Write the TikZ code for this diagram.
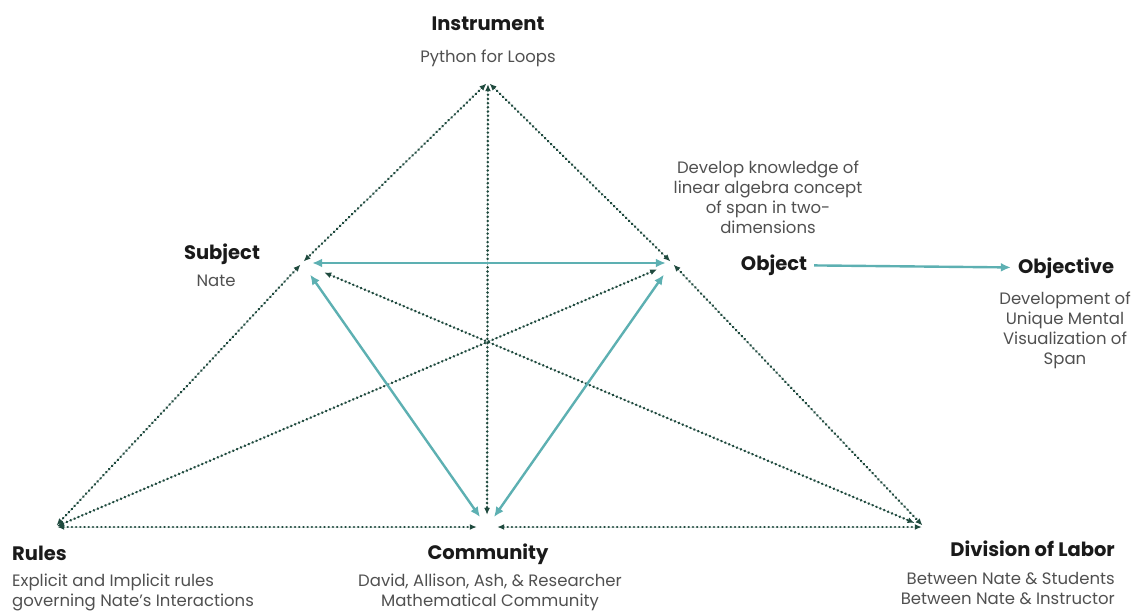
\documentclass[tikz,border=0pt]{standalone}
\usepackage{fontspec}
\setmainfont{Poppins}
\usetikzlibrary{arrows.meta,positioning,calc}
\definecolor{dotgreen}{HTML}{1F4A3E}
\definecolor{spanteal}{HTML}{5DB0B2}
\definecolor{headink}{HTML}{1A1A1A}
\definecolor{descink}{HTML}{505050}
\tikzset{
  vertex/.style={circle, inner sep=0pt, minimum size=4pt},
  headlbl/.style={font=\fontsize{19.5}{22}\selectfont\bfseries, text=headink, inner sep=1pt},
  desclbl/.style={font=\fontsize{16.5}{20}\selectfont, text=descink, align=center, inner sep=1pt},
  dotarrow/.style={{Latex[length=7pt,width=6pt]}-{Latex[length=7pt,width=6pt]}, draw=dotgreen, fill=dotgreen, line width=2.8pt, line cap=round, dash pattern=on 0.01pt off 4.2pt},
  spanarrow/.style={{Latex[length=10pt,width=9pt]}-{Latex[length=10pt,width=9pt]}, draw=spanteal, line width=2.4pt}
}
\begin{document}
\begin{tikzpicture}[x=1pt, y=-1pt]
\useasboundingbox (0,0) rectangle (1143,611);
\node[vertex] (inst) at (488,82) {};
\node[vertex] (subj) at (302,263) {};
\node[vertex] (obj) at (672,263) {};
\node[vertex] (rules) at (55,527) {};
\node[vertex] (comm) at (487,527) {};
\node[vertex] (div) at (924,527) {};

\node[headlbl] (insthead) at (488,24) {Instrument};
\node[desclbl] (instdesc) at (488,58) {Python for Loops};
\node[headlbl] (subjhead) at (222,254) {Subject};
\node[desclbl] (subjdesc) at (216,281) {Nate};
\node[desclbl] (objdesc) at (768,197) {Develop knowledge of\\linear algebra concept\\of span in two-\\dimensions};
\node[headlbl] (objhead) at (774,265) {Object};
\node[headlbl] (objtvhead) at (1066,268) {Objective};
\node[desclbl] (objtvdesc) at (1065,330) {Development of\\Unique Mental\\Visualization of\\Span};
\node[headlbl, anchor=west] (ruleshead) at (11,553) {Rules};
\node[desclbl, anchor=west, align=left] (rulesdesc) at (11,592) {Explicit and Implicit rules\\governing Nate's Interactions};
\node[headlbl] (commhead) at (488,554) {Community};
\node[desclbl] (commdesc) at (490,592) {David, Allison, Ash, \& Researcher\\Mathematical Community};
\node[headlbl, anchor=east] (divhead) at (1116,549) {Division of Labor};
\node[desclbl, anchor=east, align=right] (divdesc) at (1116,588) {Between Nate \& Students\\Between Nate \& Instructor};

\foreach \a/\b in {inst/subj,inst/obj,subj/rules,obj/div}
  \draw[dotarrow] (\a) -- (\b);
\draw[dotarrow, shorten >=10pt] (inst) -- (comm);
\draw[dotarrow, shorten >=8pt] (rules) -- (comm);
\draw[dotarrow, shorten <=8pt] (comm) -- (div);
\draw[dotarrow, shorten <=22pt, shorten >=8pt] (subj) -- (div);
\draw[dotarrow, shorten <=14pt] (obj) -- (rules);

\draw[spanarrow, shorten <=8pt, shorten >=4pt] (subj) -- (obj);
\draw[spanarrow, shorten <=12pt, shorten >=10pt] (subj) -- (comm);
\draw[spanarrow, shorten <=12pt, shorten >=10pt] (obj) -- (comm);
\draw[spanarrow, {-Latex[length=10pt,width=9pt]}, shorten <=6pt, shorten >=6pt] (objhead) -- (objtvhead);
\end{tikzpicture}
\end{document}
